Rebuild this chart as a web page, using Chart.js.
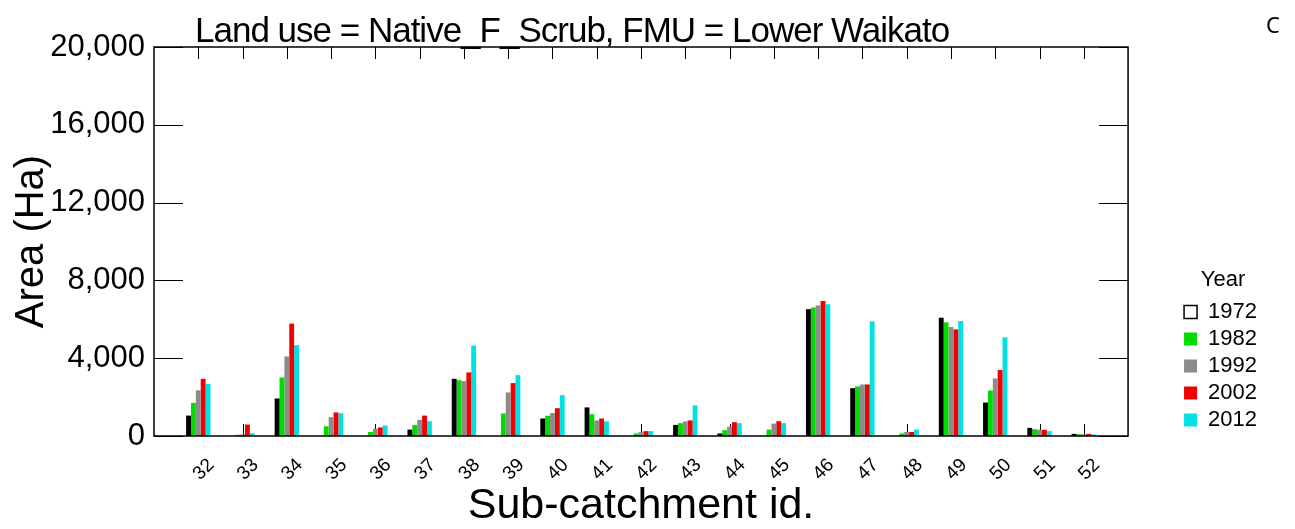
<!DOCTYPE html>
<html>
<head>
<meta charset="utf-8">
<script src="https://cdn.jsdelivr.net/npm/chart.js@4.4.1/dist/chart.umd.min.js"></script>
<style>
  html, body { margin: 0; padding: 0; background: #fff; }
  #wrap { width: 1295px; height: 529px; }
</style>
</head>
<body>
<div id="wrap"><canvas id="chart"></canvas></div>
<script>
// Native_F_Scrub area per sub-catchment, Lower Waikato FMU (Ha)

const subCatchments = [32, 33, 34, 35, 36, 37, 38, 39, 40, 41, 42, 43, 44, 45, 46, 47, 48, 49, 50, 51, 52];
const years = ['1972', '1982', '1992', '2002', '2012'];

const area1972 = [1050, 0, 1930, 0, 0, 330, 2940, 0, 900, 1470, 0, 570, 130, 0, 6520, 2460, 0, 6080, 1720, 420, 110];
const area1982 = [1700, 60, 3010, 500, 210, 570, 2870, 1160, 1040, 1120, 130, 660, 300, 330, 6610, 2550, 130, 5840, 2340, 350, 90];
const area1992 = [2350, 80, 4090, 970, 370, 830, 2820, 2240, 1180, 800, 200, 750, 470, 640, 6710, 2650, 210, 5600, 2960, 320, 90];
const area2002 = [2940, 590, 5780, 1210, 440, 1050, 3270, 2720, 1430, 900, 250, 800, 710, 760, 6940, 2650, 210, 5480, 3390, 320, 110];
const area2012 = [2680, 140, 4670, 1170, 540, 760, 4650, 3130, 2100, 760, 250, 1570, 660, 660, 6780, 5890, 330, 5910, 5070, 250, 80];

const yTicks = [0, 4000, 8000, 12000, 16000, 20000];

const titleText = 'Land use = Native_F_Scrub, FMU = Lower Waikato';
const panelLetter = 'C';

const COLORS = ['#000000', '#00dc00', '#8c8c8c', '#f00000', '#00e1e1'];
const FONT = '"Liberation Sans", Arial, sans-serif';

const series = [area1972, area1982, area1992, area2002, area2012];

const datasets = series.map((vals, i) => ({
  label: years[i],
  data: subCatchments.map((id, j) => ({ x: id, y: vals[j] })),
  backgroundColor: COLORS[i],
  borderWidth: 0,
  categoryPercentage: 0.55,
  barPercentage: 1.0
}));

// Frame, inward ticks and headline text
const framePlugin = {
  id: 'frame',
  beforeDatasetsDraw(chart) {
    const { ctx, chartArea: a, scales: { x } } = chart;
    ctx.save();
    ctx.strokeStyle = '#000';
    ctx.lineWidth = 1;
    subCatchments.forEach(id => {
      const px = Math.round(x.getPixelForValue(id)) + 0.5;
      ctx.beginPath();
      ctx.moveTo(px, a.bottom);
      ctx.lineTo(px, a.bottom - 12);
      ctx.stroke();
    });
    ctx.restore();
  },
  afterDatasetsDraw(chart) {
    const { ctx, chartArea: a, scales: { x, y } } = chart;
    ctx.save();
    ctx.strokeStyle = '#000';
    ctx.lineWidth = 1;
    // top ticks
    subCatchments.forEach(id => {
      const px = Math.round(x.getPixelForValue(id)) + 0.5;
      ctx.beginPath();
      ctx.moveTo(px, a.top);
      ctx.lineTo(px, a.top + 12);
      ctx.stroke();
    });
    // left and right ticks
    yTicks.forEach(v => {
      const py = Math.round(y.getPixelForValue(v)) + 0.5;
      ctx.beginPath();
      ctx.moveTo(a.left, py);
      ctx.lineTo(a.left + 29, py);
      ctx.moveTo(a.right, py);
      ctx.lineTo(a.right - 29, py);
      ctx.stroke();
    });
    // frame
    ctx.lineWidth = 1.5;
    ctx.strokeRect(a.left, a.top, a.right - a.left, a.bottom - a.top);
    ctx.restore();
  },
  afterDraw(chart) {
    const { ctx, chartArea: a } = chart;
    ctx.save();
    ctx.fillStyle = '#000';
    ctx.textAlign = 'left';
    ctx.textBaseline = 'alphabetic';
    ctx.font = '35px ' + FONT;
    ctx.letterSpacing = '-1px';
    ctx.fillText(titleText, a.left + 41, a.top - 5);
    ctx.letterSpacing = '0px';
    ctx.font = '22px "Noto Sans", sans-serif';
    ctx.fillText(panelLetter, 1266, 33);
    ctx.restore();
  }
};

new Chart(document.getElementById('chart'), {
  type: 'bar',
  data: { datasets },
  plugins: [framePlugin],
  options: {
    responsive: true,
    maintainAspectRatio: false,
    animation: false,
    layout: { padding: { top: 47, right: 28, bottom: 0, left: 0 } },
    plugins: {
      tooltip: { enabled: false },
      legend: {
        position: 'right',
        align: 'end',
        fullSize: false,
        title: {
          display: true,
          text: 'Year',
          color: '#000',
          font: { family: FONT, size: 22 },
          padding: { top: 3, bottom: 1 }
        },
        labels: {
          color: '#000',
          font: { family: FONT, size: 22 },
          boxWidth: 13,
          boxHeight: 13,
          padding: 5,
          generateLabels(chart) {
            return chart.data.datasets.map((ds, i) => ({
              text: ds.label,
              fillStyle: i === 0 ? '#ffffff' : ds.backgroundColor,
              strokeStyle: i === 0 ? '#000000' : ds.backgroundColor,
              lineWidth: i === 0 ? 1.5 : 0,
              datasetIndex: i,
              hidden: false
            }));
          }
        }
      }
    },
    scales: {
      x: {
        type: 'linear',
        min: 31,
        max: 53,
        offset: false,
        afterFit(scale) { scale.height = 93; },
        grid: { display: false, drawTicks: false },
        border: { display: false },
        ticks: {
          stepSize: 1,
          autoSkip: false,
          minRotation: 45,
          maxRotation: 45,
          padding: 18,
          labelOffset: 13,
          color: '#000',
          font: { family: FONT, size: 19 },
          callback: v => subCatchments.includes(v) ? String(v) : ''
        },
        title: {
          display: true,
          text: 'Sub-catchment id.',
          color: '#000',
          font: { family: FONT, size: 43, lineHeight: 1.08 },
          padding: { top: 0, bottom: 0 }
        }
      },
      y: {
        min: 0,
        max: 20000,
        afterFit(scale) { scale.width = 154; },
        afterBuildTicks(scale) { scale.ticks = yTicks.map(v => ({ value: v })); },
        grid: { display: false, drawTicks: false },
        border: { display: false },
        ticks: {
          padding: 9,
          color: '#000',
          font: { family: FONT, size: 31 },
          callback: v => v.toLocaleString('en-US')
        },
        title: {
          display: true,
          text: 'Area (Ha)',
          color: '#000',
          font: { family: FONT, size: 40 },
          padding: { top: 8, bottom: 0 }
        }
      },
      y2: {
        position: 'right',
        min: 0,
        max: 20000,
        afterFit(scale) { scale.width = 51; },
        grid: { display: false, drawTicks: false },
        border: { display: false },
        ticks: { display: false }
      }
    }
  }
});
</script>
</body>
</html>
